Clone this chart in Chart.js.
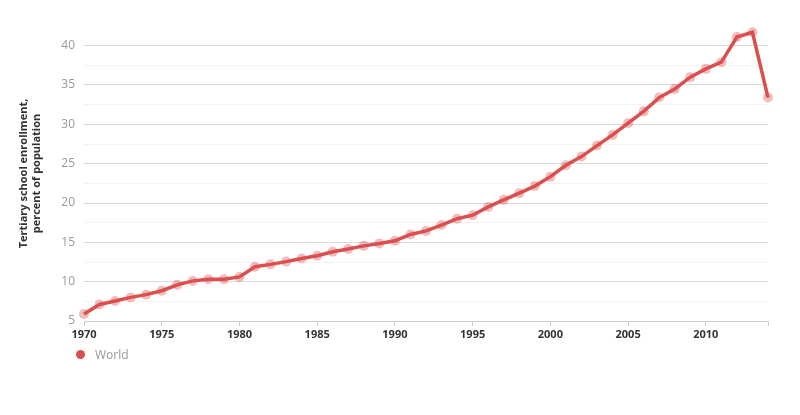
<!DOCTYPE html>
<html>
<head>
<meta charset="utf-8">
<script src="https://cdn.jsdelivr.net/npm/chart.js@4"></script>
<style>
    html, body { margin: 0; padding: 0; background: #fff; }
    #wrap { position: relative; width: 800px; height: 415px; }
    #legend {
        position: absolute; left: 76px; top: 346px;
        font: 12px "Open Sans", sans-serif; color: #999;
        display: flex; align-items: center;
    }
    #legend .dot {
        width: 9px; height: 9px; border-radius: 50%;
        background: #db4f4f; margin-right: 10px;
    }
</style>
</head>
<body>
<div id="wrap">
    <canvas id="chart" width="800" height="415"></canvas>
    <div id="legend"><span class="dot"></span><span>World</span></div>
</div>
<script>
// Years on the x axis
const years = [
    1970, 1971, 1972, 1973, 1974, 1975, 1976, 1977, 1978, 1979,
    1980, 1981, 1982, 1983, 1984, 1985, 1986, 1987, 1988, 1989,
    1990, 1991, 1992, 1993, 1994, 1995, 1996, 1997, 1998, 1999,
    2000, 2001, 2002, 2003, 2004, 2005, 2006, 2007, 2008, 2009,
    2010, 2011, 2012, 2013, 2014
];

// World tertiary enrollment, percent
const world = [
    5.9, 7.1, 7.55, 8.0, 8.35, 8.85, 9.6, 10.1, 10.3, 10.3,
    10.6, 11.9, 12.2, 12.55, 12.95, 13.3, 13.8, 14.15, 14.55, 14.85,
    15.2, 16.0, 16.45, 17.2, 18.0, 18.45, 19.5, 20.4, 21.25, 22.15,
    23.35, 24.8, 25.9, 27.3, 28.65, 30.15, 31.65, 33.4, 34.5, 36.0,
    37.05, 37.9, 41.1, 41.7, 33.4
];

// Labelled y ticks
const yLabels = [5, 10, 15, 20, 25, 30, 35, 40];

const lineColor = '#db4f4f';

const ctx = document.getElementById('chart').getContext('2d');
new Chart(ctx, {
    type: 'line',
    data: {
        datasets: [{
            label: 'World',
            data: years.map((y, i) => ({ x: y, y: world[i] })),
            borderColor: lineColor,
            borderWidth: 3.5,
            backgroundColor: 'rgba(219, 79, 79, 0.35)',
            pointBackgroundColor: 'rgba(219, 79, 79, 0.38)',
            pointBorderColor: 'rgba(219, 79, 79, 0.0)',
            pointRadius: 5,
            tension: 0,
            clip: false
        }]
    },
    options: {
        responsive: false,
        animation: false,
        layout: { padding: { left: 0, right: 32, top: 26, bottom: 64 } },
        plugins: {
            legend: { display: false },
            tooltip: { enabled: false }
        },
        scales: {
            x: {
                type: 'linear',
                min: 1970,
                max: 2014,
                afterFit: scale => { scale.height = 30; },
                ticks: {
                    stepSize: 5,
                    padding: 2,
                    color: '#333',
                    font: { family: 'Open Sans', size: 11, weight: 'bold' },
                    callback: value => (value % 5 === 0 ? String(value) : '')
                },
                grid: {
                    drawOnChartArea: false,
                    drawTicks: true,
                    tickLength: 5,
                    color: '#ccc'
                },
                border: { color: '#ccc' }
            },
            y: {
                min: 5,
                max: 42.5,
                afterFit: scale => { scale.width = 84; },
                ticks: {
                    stepSize: 2.5,
                    padding: 9,
                    color: '#999',
                    font: { family: 'Open Sans', size: 12 },
                    callback: value => (yLabels.includes(value) ? String(value) : '')
                },
                grid: {
                    drawTicks: false,
                    color: c => {
                        const v = c.tick.value;
                        if (v >= 42.5) return 'rgba(0,0,0,0)';
                        return v % 5 === 0 ? '#d9d9d9' : '#f3f3f3';
                    }
                },
                border: { display: false },
                title: {
                    display: true,
                    text: ['Tertiary school enrollment,', 'percent of population'],
                    color: '#333',
                    font: { family: 'Open Sans', size: 11, weight: 'bold' },
                    padding: { top: 17, bottom: 0 }
                }
            }
        }
    }
});
</script>
</body>
</html>
